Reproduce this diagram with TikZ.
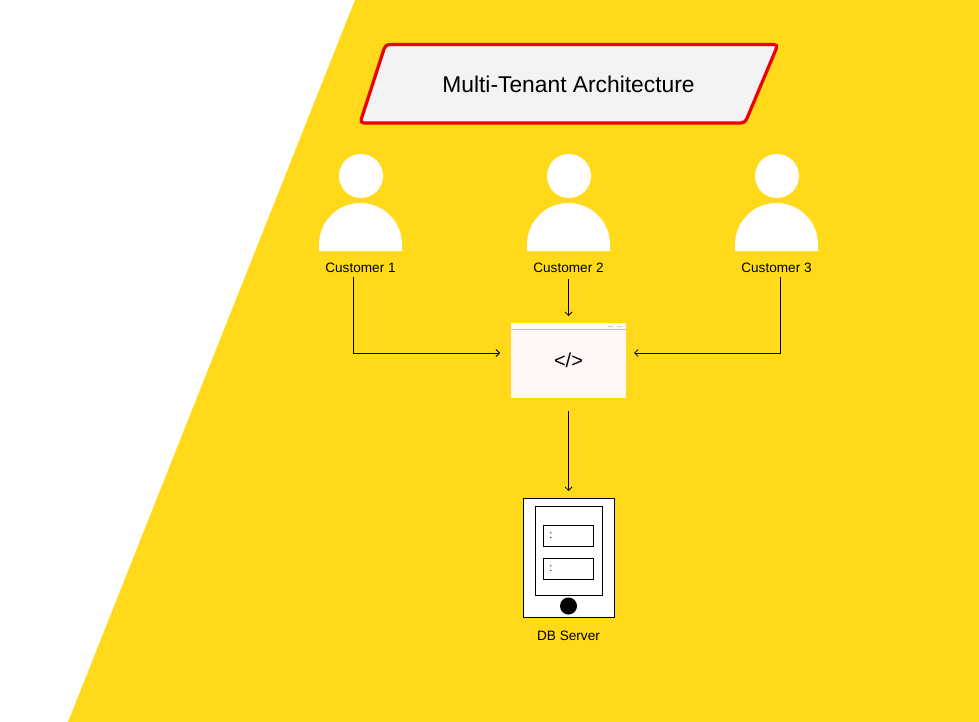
\documentclass[tikz,border=0pt]{standalone}
\usepackage{fontspec}
\usetikzlibrary{arrows.meta}
\setmainfont{Liberation Sans}
\definecolor{bgyellow}{HTML}{FFD91A}
\definecolor{titlegrey}{HTML}{F3F3F3}
\definecolor{titlered}{HTML}{EE0000}
\definecolor{appblush}{HTML}{FFF6F6}
\tikzset{
    lbl/.style={inner sep=0pt,font=\fontsize{13.6}{15}\selectfont},
    link/.style={draw=black,line width=0.8pt,-{Straight Barb[length=3.5pt,width=7pt]}},
    slotbox/.style={draw=black,line width=1pt,fill=white},
}
\begin{document}
\begin{tikzpicture}[x=1pt,y=-1pt]
    \useasboundingbox (0,0) rectangle (979,722);
    % Yellow slanted background
    \fill[white] (0,0) rectangle (979,722);
    \fill[bgyellow] (355,0) -- (979,0) -- (979,722) -- (68,722) -- cycle;
    % Title parallelogram
    \filldraw[fill=titlegrey,draw=titlered,line width=3.2pt,rounded corners=4pt]
        (385.5,44.5) -- (778,44.5) -- (745,123) -- (360,123) -- cycle;
    \node[inner sep=0pt,font=\fontsize{22.8}{28}\selectfont] (title) at (568.5,84) {Multi-Tenant Architecture};
    % The three customers, head and shoulders in white
    \foreach \cx/\idx in {360.5/1,568.5/2,776.5/3} {
        \node[circle,fill=white,inner sep=0pt,minimum size=44pt] (head\idx) at (\cx+0.5,176) {};
        \fill[white] (\cx-41.5,251) -- (\cx-41.5,244.5) arc (180:360:41.5) -- (\cx+41.5,251) -- cycle;
        \node[lbl] (cust\idx) at (\cx,268) {Customer \idx};
    }
    % Application window
    \node[fill=appblush,inner sep=0pt,minimum width=115pt,minimum height=75pt,
        font=\fontsize{20}{24}\selectfont] (app) at (568.5,360.5) {\raisebox{-3pt}{</>}};
    \draw[draw=black!25,line width=1pt] (app.north west) ++(0,7) -- ++(115,0);
    \draw[draw=black!18,line width=0.8pt] (608,326) -- (613,326) (617,326) -- (622,326);
    % DB server
    \node[draw=black,fill=white,line width=1pt,inner sep=0pt,minimum width=91pt,minimum height=119pt] (db) at (569,558) {};
    \node[draw=black,line width=1pt,inner sep=0pt,minimum width=67.5pt,minimum height=89pt] (rack) at (568.75,551) {};
    \node[slotbox,inner sep=0pt,minimum width=50pt,minimum height=20.5pt] (slotA) at (568.5,535.75) {};
    \node[slotbox,inner sep=0pt,minimum width=50pt,minimum height=20.5pt] (slotB) at (568.5,568.75) {};
    \node[inner sep=0pt,font=\fontsize{11}{12}\selectfont] (dotsA) at (551,536) {:};
    \node[inner sep=0pt,font=\fontsize{11}{12}\selectfont] (dotsB) at (551,569) {:};
    \node[circle,fill=black,inner sep=0pt,minimum size=17pt] (led) at (568.5,606) {};
    \node[lbl] (dblbl) at (568.5,636) {DB Server};
    % Free ends of the connectors
    \coordinate (out1) at (353.5,277);
    \coordinate (out2) at (568.5,279);
    \coordinate (out3) at (780.5,277);
    \coordinate (inL) at (500,353);
    \coordinate (inT) at (568.5,316);
    \coordinate (inR) at (634,353);
    \coordinate (appOut) at (568.5,411);
    \coordinate (dbIn) at (568.5,491);
    \draw[link] (out1) |- (inL);
    \draw[link] (out2) -- (inT);
    \draw[link] (out3) |- (inR);
    \draw[link] (appOut) -- (dbIn);
\end{tikzpicture}
\end{document}
